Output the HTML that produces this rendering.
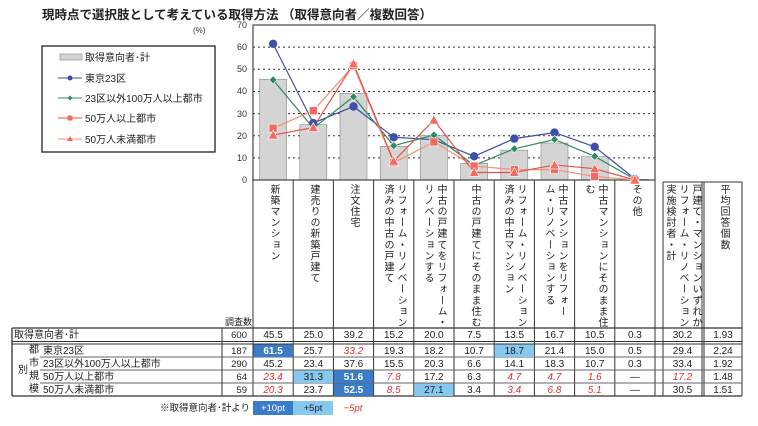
<!DOCTYPE html>
<html><head><meta charset="utf-8"><style>
body{margin:0;background:#fff;}
#w{position:relative;width:758px;height:426px;overflow:hidden;font-family:"Liberation Sans","Noto Sans CJK JP",sans-serif;color:#222;}
.v{position:absolute;top:184px;writing-mode:vertical-rl;font-size:10px;line-height:13px;letter-spacing:1.1px;white-space:nowrap;color:#222;}
svg{position:absolute;left:0;top:0;}
</style></head><body><div id="w">
<svg width="758" height="426" viewBox="0 0 758 426" font-family="Liberation Sans, Noto Sans CJK JP, sans-serif">
<text x="42" y="19" font-size="12.5" font-weight="bold" fill="#222">現時点で選択肢として考えている取得方法 （取得意向者／複数回答）</text>
<text x="193" y="33" font-size="8" fill="#333">(%)</text>
<g font-size="9" fill="#333" text-anchor="end">
<text x="247" y="28">70</text><text x="247" y="50">60</text><text x="247" y="72">50</text><text x="247" y="94">40</text><text x="247" y="117">30</text><text x="247" y="139">20</text><text x="247" y="161">10</text><text x="247" y="183">0</text>
</g>
<g id="grid" stroke="#333" stroke-width="1" stroke-dasharray="2,3"></g>
<g id="bars"></g>
<rect x="253" y="25" width="402" height="155" fill="none" stroke="#444" stroke-width="1.2"/>
<g id="lines"></g>
<rect x="42" y="46" width="173" height="106" fill="#fff" stroke="#222" stroke-width="1.3"/>
<rect x="60" y="54" width="22" height="6" fill="#d4d4d4" stroke="#888" stroke-width="0.6"/>
<line x1="58" y1="78" x2="82" y2="78" stroke="#3f4fa8"/><circle cx="70" cy="78" r="2.5" fill="#3f4fa8"/>
<line x1="58" y1="98" x2="82" y2="98" stroke="#2f8a5e"/><path d="M70 95.5 L72.5 98 L70 100.5 L67.5 98Z" fill="#2f8a5e"/>
<line x1="58" y1="118" x2="82" y2="118" stroke="#e8504a"/><rect x="67.5" y="115.5" width="5" height="5" fill="#f26b5e"/>
<line x1="58" y1="139" x2="82" y2="139" stroke="#f59070"/><path d="M70 136 L73 141 L67 141Z" fill="#f26b5e"/>
<g font-size="10" fill="#222">
<text x="85" y="61">取得意向者･計</text>
<text x="85" y="82">東京23区</text>
<text x="85" y="102">23区以外100万人以上都市</text>
<text x="85" y="122">50万人以上都市</text>
<text x="85" y="143">50万人未満都市</text>
</g>
<g stroke="#333" stroke-width="1" fill="none">
<line x1="253" y1="180" x2="253" y2="396"/>
<line x1="293.2" y1="180" x2="293.2" y2="396"/><line x1="333.4" y1="180" x2="333.4" y2="396"/><line x1="373.6" y1="180" x2="373.6" y2="396"/><line x1="413.8" y1="180" x2="413.8" y2="396"/><line x1="454" y1="180" x2="454" y2="396"/><line x1="494.2" y1="180" x2="494.2" y2="396"/><line x1="534.4" y1="180" x2="534.4" y2="396"/><line x1="574.6" y1="180" x2="574.6" y2="396"/><line x1="614.8" y1="180" x2="614.8" y2="396"/><line x1="655" y1="180" x2="655" y2="396"/>
<line x1="663" y1="182" x2="663" y2="396"/><line x1="702" y1="182" x2="702" y2="396"/><line x1="704" y1="182" x2="704" y2="396"/><line x1="742" y1="182" x2="742" y2="396"/>
<line x1="663" y1="182" x2="742" y2="182"/>
<line x1="12" y1="328" x2="742" y2="328" stroke-width="1.3"/>
<line x1="12" y1="341.5" x2="742" y2="341.5"/>
<line x1="12" y1="344" x2="742" y2="344"/>
<line x1="40" y1="357" x2="742" y2="357" stroke="#666"/><line x1="40" y1="370" x2="742" y2="370" stroke="#666"/><line x1="40" y1="383" x2="742" y2="383" stroke="#666"/>
<line x1="12" y1="396" x2="742" y2="396" stroke-width="1.3"/>
<line x1="12" y1="328" x2="12" y2="396" stroke-width="1.3"/>
<line x1="222" y1="328" x2="222" y2="396"/>
</g>
<text x="225" y="325" font-size="9" fill="#222">調査数</text>
<g id="hl"></g>
<g font-size="10" fill="#222">
<text x="14" y="338">取得意向者･計</text>
<text x="18" y="373">別</text>
<text x="29" y="353">都</text><text x="29" y="366">市</text><text x="29" y="379">規</text><text x="29" y="392">模</text>
<text x="43" y="354">東京23区</text>
<text x="43" y="367">23区以外100万人以上都市</text>
<text x="43" y="380">50万人以上都市</text>
<text x="43" y="393">50万人未満都市</text>
</g>
<g font-size="9.5" fill="#222" text-anchor="end">
<text x="247" y="338">600</text><text x="247" y="354">187</text><text x="247" y="367">290</text><text x="247" y="380">64</text><text x="247" y="393">59</text>
</g>
<g font-size="10" text-anchor="middle" fill="#222">
<text x="273.1" y="338">45.5</text><text x="313.3" y="338">25.0</text><text x="353.5" y="338">39.2</text><text x="393.7" y="338">15.2</text><text x="433.9" y="338">20.0</text><text x="474.1" y="338">7.5</text><text x="514.3" y="338">13.5</text><text x="554.5" y="338">16.7</text><text x="594.7" y="338">10.5</text><text x="634.9" y="338">0.3</text><text x="682.5" y="338">30.2</text><text x="723" y="338">1.93</text>

<text x="273.1" y="354" fill="#fff" font-weight="bold">61.5</text><text x="313.3" y="354">25.7</text><text x="353.5" y="354" fill="#e03030" font-style="italic">33.2</text><text x="393.7" y="354">19.3</text><text x="433.9" y="354">18.2</text><text x="474.1" y="354">10.7</text><text x="514.3" y="354">18.7</text><text x="554.5" y="354">21.4</text><text x="594.7" y="354">15.0</text><text x="634.9" y="354">0.5</text><text x="682.5" y="354">29.4</text><text x="723" y="354">2.24</text>

<text x="273.1" y="367">45.2</text><text x="313.3" y="367">23.4</text><text x="353.5" y="367">37.6</text><text x="393.7" y="367">15.5</text><text x="433.9" y="367">20.3</text><text x="474.1" y="367">6.6</text><text x="514.3" y="367">14.1</text><text x="554.5" y="367">18.3</text><text x="594.7" y="367">10.7</text><text x="634.9" y="367">0.3</text><text x="682.5" y="367">33.4</text><text x="723" y="367">1.92</text>

<text x="273.1" y="380" fill="#e03030" font-style="italic">23.4</text><text x="313.3" y="380">31.3</text><text x="353.5" y="380" fill="#fff" font-weight="bold">51.6</text><text x="393.7" y="380" fill="#e03030" font-style="italic">7.8</text><text x="433.9" y="380">17.2</text><text x="474.1" y="380">6.3</text><text x="514.3" y="380" fill="#e03030" font-style="italic">4.7</text><text x="554.5" y="380" fill="#e03030" font-style="italic">4.7</text><text x="594.7" y="380" fill="#e03030" font-style="italic">1.6</text><text x="634.9" y="380">—</text><text x="682.5" y="380" fill="#e03030" font-style="italic">17.2</text><text x="723" y="380">1.48</text>

<text x="273.1" y="393" fill="#e03030" font-style="italic">20.3</text><text x="313.3" y="393">23.7</text><text x="353.5" y="393" fill="#fff" font-weight="bold">52.5</text><text x="393.7" y="393" fill="#e03030" font-style="italic">8.5</text><text x="433.9" y="393">27.1</text><text x="474.1" y="393">3.4</text><text x="514.3" y="393" fill="#e03030" font-style="italic">3.4</text><text x="554.5" y="393" fill="#e03030" font-style="italic">6.8</text><text x="594.7" y="393" fill="#e03030" font-style="italic">5.1</text><text x="634.9" y="393">—</text><text x="682.5" y="393">30.5</text><text x="723" y="393">1.51</text>
</g>
<text x="250" y="411" font-size="9.5" fill="#222" text-anchor="end">※取得意向者･計より</text>
<rect x="253" y="401" width="40" height="14" fill="#3a7cc8"/>
<rect x="293" y="401" width="40" height="14" fill="#86c8f0"/>
<text x="273" y="411" font-size="9.5" fill="#fff" text-anchor="middle">+10pt</text>
<text x="313" y="411" font-size="9.5" fill="#222" text-anchor="middle">+5pt</text>
<text x="353" y="411" font-size="9.5" fill="#e03030" font-style="italic" text-anchor="middle">−5pt</text>
</svg>

<div class="v" style="left:267px">新築マンション</div>
<div class="v" style="left:307px">建売りの新築戸建て</div>
<div class="v" style="left:347px">注文住宅</div>
<div class="v" style="left:381px">リフォーム・リノベーション<br>済みの中古の戸建て</div>
<div class="v" style="left:421px">中古の戸建てをリフォーム・<br>リノベーションする</div>
<div class="v" style="left:468px">中古の戸建てにそのまま住む</div>
<div class="v" style="left:501px">リフォーム・リノベーション<br>済みの中古マンション</div>
<div class="v" style="left:542px">中古マンションをリフォー<br>ム・リノベーションする</div>
<div class="v" style="left:582px">中古マンションにそのまま住<br>む</div>
<div class="v" style="left:629px">その他</div>
<div class="v" style="left:663px">戸建て・マンションいずれか<br>リフォーム・リノベーション<br>実施検討者・計</div>
<div class="v" style="left:717px">平均回答個数</div>

<script>
(function(){
var NS="http://www.w3.org/2000/svg";
function el(p,t,a){var e=document.createElementNS(NS,t);for(var k in a)e.setAttribute(k,a[k]);p.appendChild(e);return e;}
var cx=function(i){return 253+40.2*(i+0.5);};
var cy=function(v){return 180-v*2.214;};
var g=document.getElementById('grid');
for(var k=1;k<=6;k++){var y=cy(k*10);el(g,'line',{x1:253,y1:y,x2:655,y2:y});}
var tot=[45.5,25.0,39.2,15.2,20.0,7.5,13.5,16.7,10.5,0.3];
var b=document.getElementById('bars');
tot.forEach(function(v,i){el(b,'rect',{x:cx(i)-13.5,y:cy(v),width:27,height:180-cy(v),fill:'#d4d4d4',stroke:'#888','stroke-width':0.6});});
var S=[
{d:[61.5,25.7,33.2,19.3,18.2,10.7,18.7,21.4,15.0,0.5],c:'#3f4fa8',m:'c',mc:'#3f4fa8'},
{d:[45.2,23.4,37.6,15.5,20.3,6.6,14.1,18.3,10.7,0.3],c:'#2f8a5e',m:'d',mc:'#2f8a5e'},
{d:[23.4,31.3,51.6,7.8,17.2,6.3,4.7,4.7,1.6,0],c:'#f59070',m:'s',mc:'#f26b5e'},
{d:[20.3,23.7,52.5,8.5,27.1,3.4,3.4,6.8,5.1,0],c:'#e8504a',m:'t',mc:'#f26b5e'}];
var L=document.getElementById('lines');
S.forEach(function(s){
 var pts=s.d.map(function(v,i){return cx(i)+','+cy(v);}).join(' ');
 el(L,'polyline',{points:pts,fill:'none',stroke:s.c,'stroke-width':1.2});
});
S.forEach(function(s){
 s.d.forEach(function(v,i){var x=cx(i),y=cy(v);
 if(s.m=='c')el(L,'circle',{cx:x,cy:y,r:4.2,fill:s.mc});
 else if(s.m=='d')el(L,'path',{d:'M'+x+' '+(y-4)+' L'+(x+4)+' '+y+' L'+x+' '+(y+4)+' L'+(x-4)+' '+y+'Z',fill:s.mc,stroke:'#fff','stroke-width':0.6});
 else if(s.m=='s')el(L,'rect',{x:x-4,y:y-4,width:8,height:8,fill:s.mc,stroke:'#fff','stroke-width':0.6});
 else el(L,'path',{d:'M'+x+' '+(y-5)+' L'+(x+5)+' '+(y+4)+' L'+(x-5)+' '+(y+4)+'Z',fill:s.mc,stroke:'#fff','stroke-width':0.6});
 });
});
var H=document.getElementById('hl');
var hl=[[0,344,'#3a7cc8'],[6,344,'#86c8f0'],[1,370,'#86c8f0'],[2,370,'#3a7cc8'],[2,383,'#3a7cc8'],[4,383,'#86c8f0']];
hl.forEach(function(h){el(H,'rect',{x:253.5+40.2*h[0],y:h[1]+0.5,width:39.2,height:12.5,fill:h[2]});});
})();
</script>
</div></body></html>
